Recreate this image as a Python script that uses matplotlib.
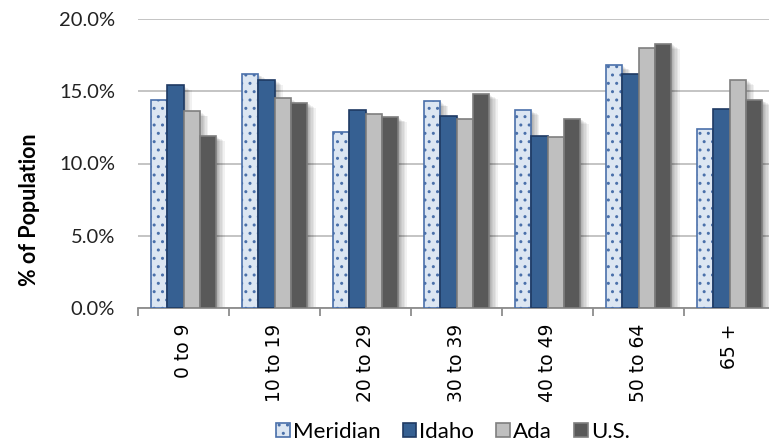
import numpy as np
import matplotlib
matplotlib.use("Agg")
import matplotlib.pyplot as plt
import matplotlib.patheffects as pe
from matplotlib.patches import Patch

# age groups and share of population (%) by area
age_groups = ['0 to 9', '10 to 19', '20 to 29', '30 to 39', '40 to 49', '50 to 64', '65 +']
meridian = [14.4, 16.2, 12.2, 14.3, 13.7, 16.8, 12.4]
idaho = [15.4, 15.8, 13.7, 13.3, 11.9, 16.2, 13.8]
ada = [13.6, 14.5, 13.4, 13.1, 11.8, 18.0, 15.8]
us = [11.9, 14.2, 13.2, 14.8, 13.1, 18.3, 14.4]
series_names = ['Meridian', 'Idaho', 'Ada', 'U.S.']

face_colors = ['#dce6f2', '#366092', '#bfbfbf', '#595959']
edge_colors = ['#4a70aa', '#1f3a63', '#7f7f7f', '#7f7f7f']
hatches = ['..', None, None, None]

label_font = ['Lato', 'DejaVu Sans']

fig = plt.figure(figsize=(7.69, 4.45), dpi=100)
ax = fig.add_axes([138/769, 137/445, 637/769, 289/445])

# soft drop shadow to the lower right of every bar; without pe.Normal()
# only the shadow gets drawn, the real bars go on top
shadow = [pe.SimplePatchShadow(offset=(d, -d * 0.6), shadow_rgbFace='k', alpha=0.055)
          for d in (1, 2, 3, 4, 5, 6)]

x = np.arange(len(age_groups))
w = 0.18
for i, vals in enumerate([meridian, idaho, ada, us]):
    pos = x + (i - 1.5) * w
    ax.bar(pos, vals, width=w, color='k', zorder=2, path_effects=shadow)
    ax.bar(pos, vals, width=w, color=face_colors[i],
           edgecolor=edge_colors[i], linewidth=1.2, hatch=hatches[i], zorder=3)

ax.set_xlim(-0.5, len(age_groups) - 0.5)
ax.set_ylim(0, 20)
ax.set_yticks([0, 5, 10, 15, 20])
ax.set_yticklabels(['0.0%', '5.0%', '10.0%', '15.0%', '20.0%'],
                   fontsize=14.5, family=label_font, color='#222222')
ax.yaxis.grid(True, color='#bfbfbf', linewidth=1.3, zorder=0)
ax.tick_params(axis='y', length=0, pad=16.5)

ax.set_xticks(x)
ax.set_xticklabels(age_groups, rotation=90, fontsize=13.5, va='top')
ax.set_xticks(np.arange(len(age_groups) + 1) - 0.5, minor=True)
ax.tick_params(axis='x', which='major', length=0, pad=11)
ax.tick_params(axis='x', which='minor', length=6, color='#8c8c8c', width=1.3)

for side in ['left', 'right', 'top']:
    ax.spines[side].set_visible(False)
ax.spines['bottom'].set_color('#8c8c8c')
ax.spines['bottom'].set_linewidth(1.3)

fig.text(30/769, 235/445, '% of Population', rotation=90, fontsize=15.5,
         fontweight='bold', family=label_font, ha='center', va='center')

handles = [Patch(facecolor=face_colors[i], edgecolor=edge_colors[i],
                 hatch=hatches[i], linewidth=1.2) for i in range(4)]
fig.legend(handles, series_names, loc='center', bbox_to_anchor=(453/769, 13/445),
           ncol=4, frameon=False, prop={'family': label_font, 'size': 16},
           handlelength=0.6, handleheight=0.6, handletextpad=0.15, columnspacing=1.0,
           borderpad=0)

fig.savefig('out.png', dpi=100)
